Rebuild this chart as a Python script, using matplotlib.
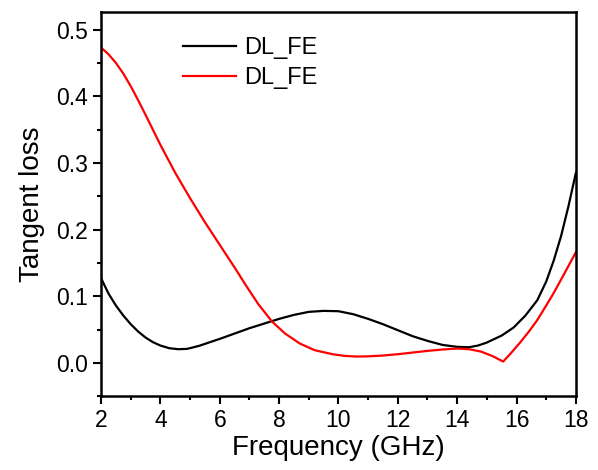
import matplotlib.pyplot as plt
from matplotlib.ticker import MultipleLocator

plt.rcParams.update({
    "font.family": ["Liberation Sans", "DejaVu Sans"],
    "font.size": 16,
})

# black curve
freq_black = [2.0, 2.25, 2.5, 2.75, 3.0, 3.25, 3.5, 3.75, 4.0, 4.3, 4.6, 4.9, 5.3,
              5.6, 6.0, 6.5, 7.0, 7.5, 8.0, 8.5, 9.0, 9.5, 10.0, 10.5, 11.0, 11.5,
              12.0, 12.5, 13.0, 13.5, 14.0, 14.4, 14.7, 15.0, 15.5, 15.9, 16.3,
              16.7, 17.0, 17.25, 17.5, 17.75, 18.0]
tan_black = [0.127, 0.104, 0.086, 0.071, 0.058, 0.047, 0.038, 0.031, 0.026, 0.022,
             0.0205, 0.021, 0.0255, 0.030, 0.036, 0.044, 0.052, 0.059, 0.066, 0.072,
             0.0765, 0.078, 0.0775, 0.073, 0.066, 0.058, 0.049, 0.040, 0.033, 0.027,
             0.024, 0.0235, 0.026, 0.0305, 0.041, 0.053, 0.071, 0.094, 0.122, 0.153,
             0.19, 0.235, 0.285]

# red curve
freq_red = [2.0, 2.25, 2.5, 2.75, 3.0, 3.25, 3.5, 4.0, 4.5, 5.0, 5.5, 6.0, 6.5, 6.9,
            7.3, 7.76, 8.2, 8.7, 9.2, 9.8, 10.2, 10.6, 11.0, 11.5, 12.0, 12.5, 13.0,
            13.5, 14.0, 14.4, 14.8, 15.2, 15.55, 15.8, 16.12, 16.4, 16.68, 17.0,
            17.23, 17.6, 18.0]
tan_red = [0.473, 0.463, 0.450, 0.434, 0.415, 0.394, 0.372, 0.327, 0.285, 0.247,
           0.211, 0.177, 0.143, 0.115, 0.088, 0.062, 0.044, 0.029, 0.019, 0.013,
           0.0105, 0.0095, 0.0098, 0.011, 0.013, 0.0155, 0.018, 0.020, 0.0215,
           0.0205, 0.017, 0.010, 0.002, 0.014, 0.0305, 0.046, 0.063, 0.086, 0.103,
           0.133, 0.166]

fig = plt.figure(figsize=(5.98, 4.70), dpi=100)
ax = fig.add_axes([0.169, 0.157, 0.794, 0.817])

ax.plot(freq_black, tan_black, color="black", lw=1.6, label="DL_FE")
ax.plot(freq_red, tan_red, color="#ff0000", lw=1.6, label="DL_FE")

ax.set_xlim(2, 18)
ax.set_ylim(-0.05, 0.526)
ax.xaxis.set_major_locator(MultipleLocator(2))
ax.xaxis.set_minor_locator(MultipleLocator(1))
ax.yaxis.set_major_locator(MultipleLocator(0.1))
ax.yaxis.set_minor_locator(MultipleLocator(0.05))
ax.yaxis.set_major_formatter(lambda v, p: f"{v:.1f}")
ax.tick_params(which="major", direction="out", length=6, width=1.5, labelsize=16.5)
ax.tick_params(which="minor", direction="out", length=3, width=1.5)
for s in ax.spines.values():
    s.set_linewidth(1.8)

ax.set_xlabel("Frequency (GHz)", fontsize=20, labelpad=2)
ax.set_ylabel("Tangent loss", fontsize=20, labelpad=8)

ax.legend(loc="upper left", bbox_to_anchor=(0.172, 0.935), frameon=False,
          fontsize=17, handlelength=2.25, handletextpad=0.35,
          labelspacing=0.35, borderpad=0, borderaxespad=0)

fig.savefig("out.png", dpi=100)
